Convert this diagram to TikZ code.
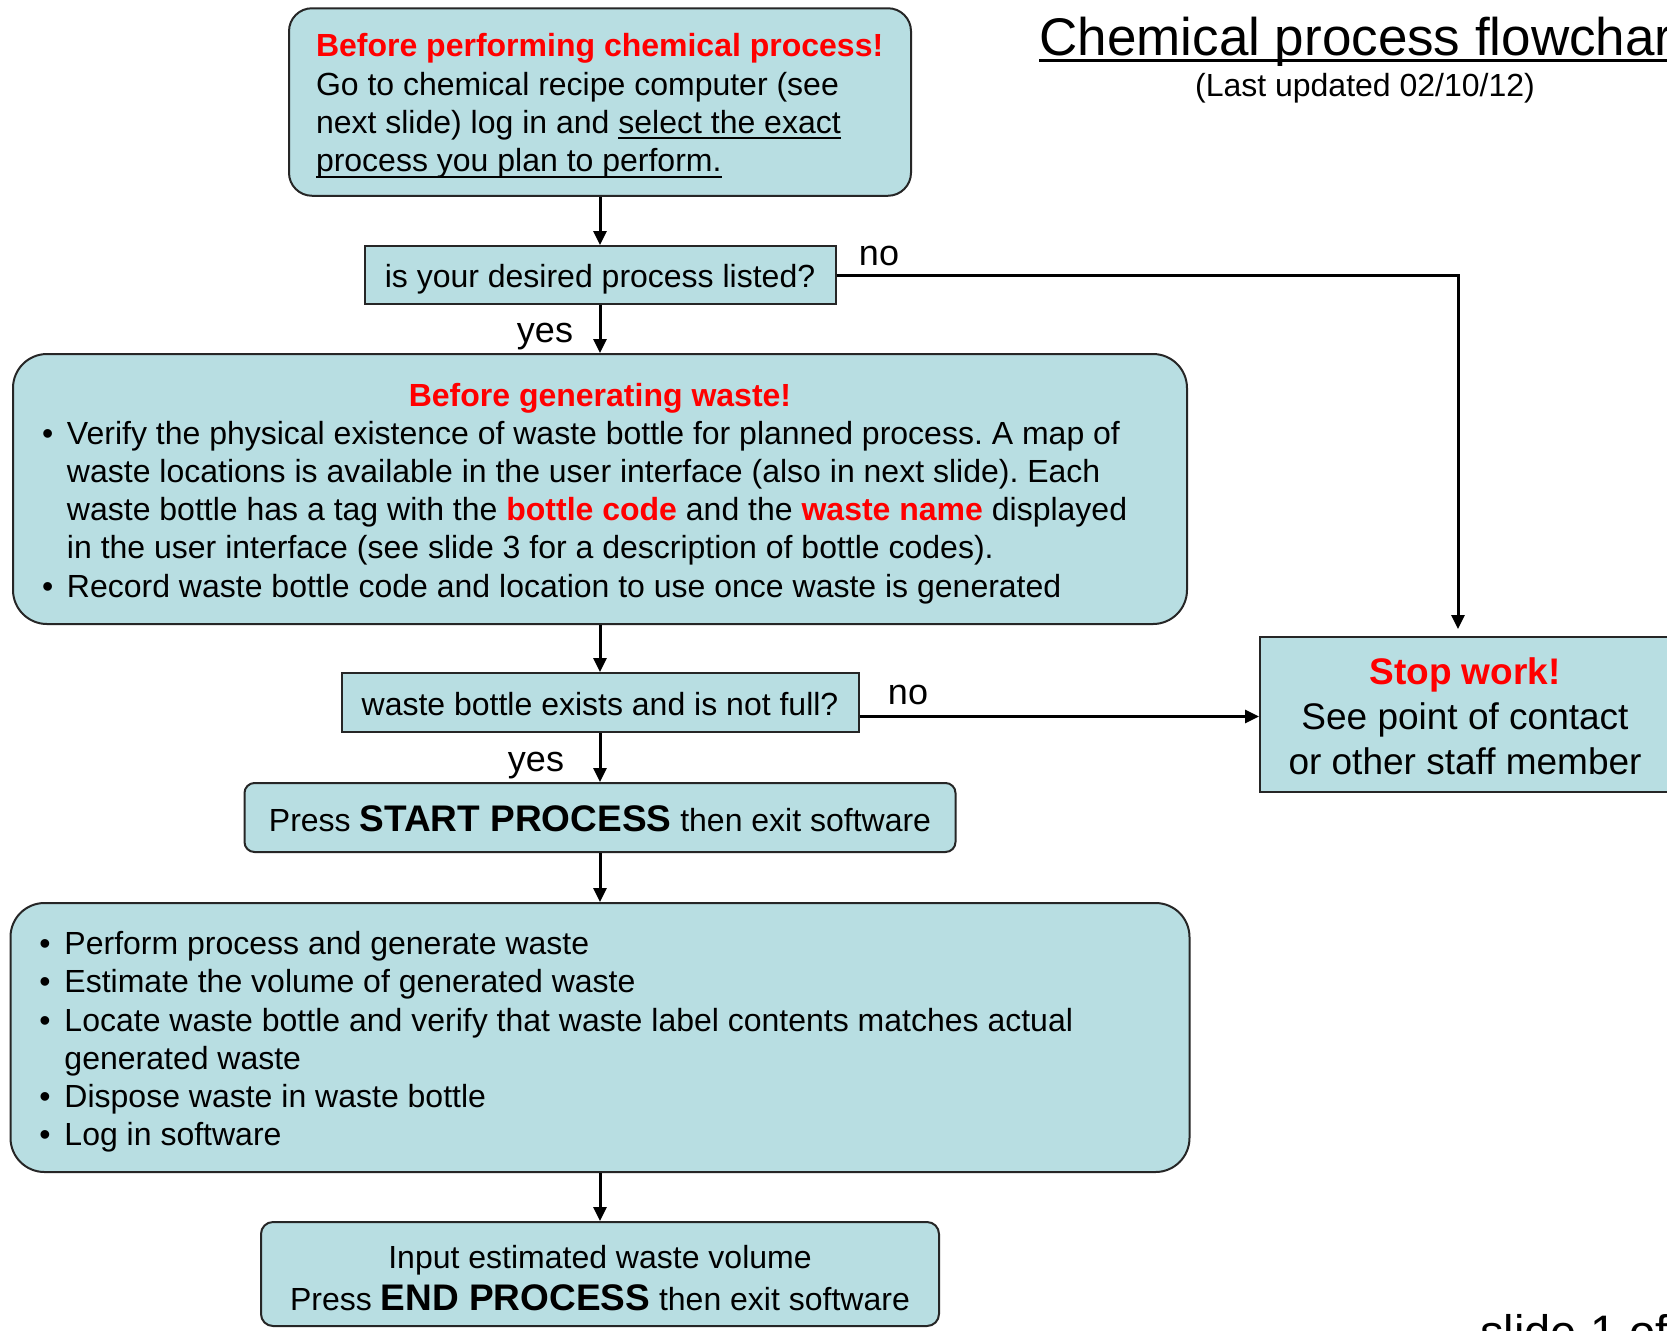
\documentclass[tikz,border=0pt]{standalone}
\usepackage{fontspec}
\setmainfont{Liberation Sans}
\usetikzlibrary{arrows.meta}
\definecolor{boxfill}{RGB}{184,222,226}
\definecolor{alert}{RGB}{255,0,0}
\newsavebox\ulbox
\newcommand\myul[3][3pt]{\sbox\ulbox{#3}\leavevmode\rlap{\rule[-#1]{\wd\ulbox}{#2}}\usebox\ulbox}
\newcommand\bodyfont{\fontsize{16pt}{19.1pt}\selectfont\frenchspacing}
\newcommand\bigbold{\fontsize{18.5pt}{22pt}\selectfont\bfseries}
\newcommand\dn[2]{\raisebox{-#1}[\height][\depth]{#2}}
\tikzset{
  boxbase/.style={draw=black!85, line width=1pt, fill=boxfill, inner sep=0pt},
  rbox/.style={boxbase, rounded corners=#1},
  conn/.style={line width=1.5pt, -{Triangle[length=7pt,width=6.5pt]}},
  lbl/.style={font=\fontsize{18pt}{21pt}\selectfont, inner sep=0pt},
}
\begin{document}
\begin{tikzpicture}[x=0.5pt,y=-0.5pt]
\useasboundingbox (0,0) rectangle (1667,1330);
\fill[white] (0,0) rectangle (1667,1330);
\clip (0,0) rectangle (1667,1330);

% title
\node[anchor=base west, inner sep=0pt, font=\fontsize{26.5pt}{30pt}\selectfont] (title) at (1039,55)
  {\myul[3.4pt]{1.2pt}{Chemical process flowchart}};
\node[inner sep=0pt, font=\fontsize{16pt}{19pt}\selectfont] (sub) at (1365,88) {(Last updated 02/10/12)};
\node[anchor=base west, inner sep=0pt, font=\fontsize{23.5pt}{28pt}\selectfont] (slide) at (1480,1348) {slide 1 of};

% boxes
\node[rbox=11.5pt, minimum width=311pt, minimum height=93.75pt, font=\bodyfont] (b1) at (600,102)
  {\dn{2pt}{\parbox{284pt}{\raggedright
   \mbox{\textcolor{alert}{\bfseries Before performing chemical process!}}\\
   Go to chemical recipe computer (see\\
   next slide) log in and \myul{1pt}{select the exact}\\
   \myul{1pt}{process you plan to perform.}}}};

\node[boxbase, minimum width=235.5pt, minimum height=29pt, font=\bodyfont] (d1) at (600,275)
  {\dn{2pt}{is your desired process listed?}};

\node[rbox=17pt, minimum width=587pt, minimum height=135pt, font=\bodyfont] (b2) at (600,489)
  {\dn{2.2pt}{\parbox{558pt}{\centering\textcolor{alert}{\bfseries Before generating waste!}\par
   \raggedright
   \makebox[12.5pt][l]{•}Verify the physical existence of waste bottle for planned process. A map of\\
   \hspace*{12.5pt}waste locations is available in the user interface (also in next slide). Each\\
   \hspace*{12.5pt}waste bottle has a tag with the \textcolor{alert}{\bfseries bottle code} and the \textcolor{alert}{\bfseries waste name} displayed\\
   \hspace*{12.5pt}in the user interface (see slide 3 for a description of bottle codes).\\
   \makebox[12.5pt][l]{•}Record waste bottle code and location to use once waste is generated}}};

\node[boxbase, minimum width=258.5pt, minimum height=29.5pt, font=\bodyfont] (d2) at (600,702.5)
  {\dn{1pt}{waste bottle exists and is not full?}};

\node[rbox=5pt, minimum width=355.5pt, minimum height=34.5pt, font=\bodyfont] (b3) at (600,817.5)
  {\dn{0.6pt}{Press {\bigbold START PROCESS} then exit software}};

\node[rbox=17pt, minimum width=589.5pt, minimum height=134.5pt, font=\bodyfont] (b4) at (600,1037.5)
  {\dn{2.2pt}{\parbox{560.5pt}{\raggedright
   \makebox[12.5pt][l]{•}Perform process and generate waste\\
   \makebox[12.5pt][l]{•}Estimate the volume of generated waste\\
   \makebox[12.5pt][l]{•}Locate waste bottle and verify that waste label contents matches actual\\
   \hspace*{12.5pt}generated waste\\
   \makebox[12.5pt][l]{•}Dispose waste in waste bottle\\
   \makebox[12.5pt][l]{•}Log in software}}};

\node[rbox=6pt, minimum width=339pt, minimum height=52pt, font=\bodyfont] (b5) at (600,1274)
  {\dn{2pt}{\parbox{330pt}{\centering Input estimated waste volume\\[2.1pt]
   Press {\bigbold END PROCESS} then exit software}}};

\node[boxbase, minimum width=205pt, minimum height=77.5pt, font=\fontsize{18.5pt}{22.3pt}\selectfont] (stop) at (1465,714.5)
  {\dn{0.9pt}{\parbox{200pt}{\centering\textcolor{alert}{\bfseries Stop work!}\\
   See point of contact\\
   or other staff member}}};

% connectors
\coordinate (k1) at (1458,275);
\draw[conn] (b1.south) -- (d1.north);
\draw[conn, shorten >=3.5pt] (d1.east) -- (k1) -- (k1 |- stop.north);
\draw[conn] (d1.south) -- (b2.north);
\draw[conn] (b2.south) -- (d2.north);
\draw[conn] ([yshift=-7pt]d2.east) -- ([yshift=-7pt]d2.east -| stop.west);
\draw[conn] (d2.south) -- (b3.north);
\draw[conn] (b3.south) -- (b4.north);
\draw[conn] (b4.south) -- (b5.north);

% labels
\node[lbl] (no1) at (879,256) {no};
\node[lbl] (no2) at (908,695) {no};
\node[lbl] (yes1) at (545,337) {yes};
\node[lbl] (yes2) at (536,766) {yes};
\end{tikzpicture}
\end{document}
